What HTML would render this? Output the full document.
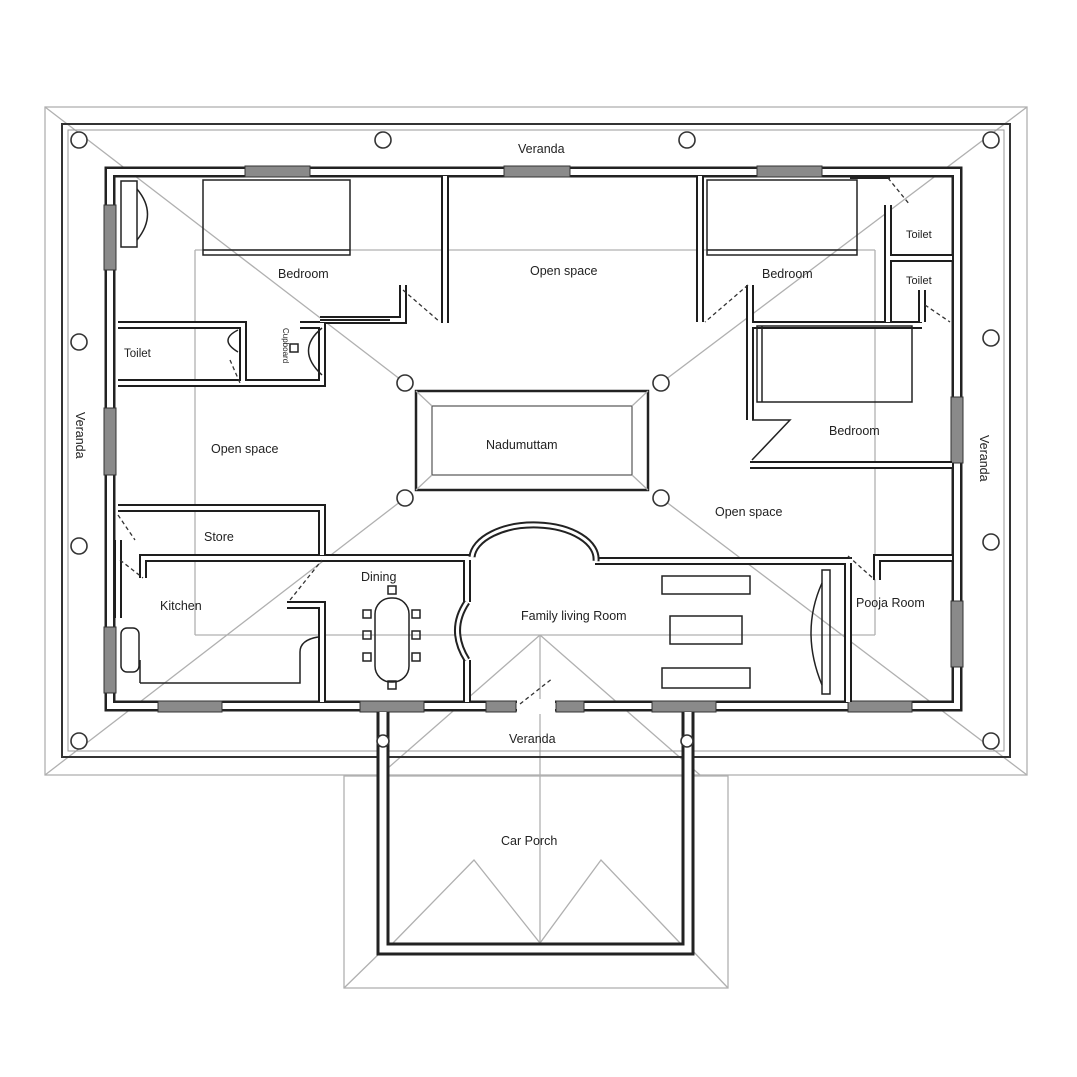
<!DOCTYPE html>
<html><head><meta charset="utf-8"><style>
html,body{margin:0;padding:0;background:#fff;}
svg{display:block;}
text{font-family:"Liberation Sans",sans-serif;font-size:12.5px;fill:#222;}
.r{stroke:#b0b0b0;stroke-width:1.3;fill:none;}
.w{fill:none;stroke:#1e1e1e;stroke-width:8;stroke-linecap:butt;}
.wi{fill:none;stroke:#fff;stroke-width:4;}
.t{fill:none;stroke:#222;stroke-width:1.5;}
.g{fill:#8a8a8a;stroke:#333;stroke-width:1;}
.c{fill:#fff;stroke:#333;stroke-width:1.6;}
.d{stroke:#333;stroke-width:1.3;stroke-dasharray:4 3;fill:none;}
</style></head><body>
<svg width="1077" height="1077" viewBox="0 0 1077 1077" xmlns="http://www.w3.org/2000/svg">
<rect x="45" y="107" width="982" height="668" class="r"/>
<rect x="344" y="776" width="384" height="212" class="r"/>
<g class="r">
<line x1="195" y1="250" x2="875" y2="250"/>
<line x1="195" y1="635" x2="875" y2="635"/>
<line x1="195" y1="250" x2="195" y2="635"/>
<line x1="875" y1="250" x2="875" y2="635"/>
<line x1="45" y1="107" x2="405" y2="383"/>
<line x1="1027" y1="107" x2="661" y2="383"/>
<line x1="45" y1="775" x2="405" y2="498"/>
<line x1="1027" y1="775" x2="661" y2="498"/>
<line x1="540" y1="635" x2="540" y2="944"/>
<line x1="540" y1="635" x2="380" y2="775"/>
<line x1="540" y1="635" x2="700" y2="775"/>
<polyline points="393,943 474,860 540,943 601,860 680,943"/>
<line x1="344" y1="988" x2="385" y2="948"/>
<line x1="728" y1="988" x2="690" y2="948"/>
</g>
<rect x="62" y="124" width="948" height="633" fill="none" stroke="#333" stroke-width="2"/>
<rect x="68" y="130" width="936" height="621" fill="none" stroke="#999" stroke-width="1"/>
<rect x="110" y="172" width="847" height="534" fill="none" stroke="#222" stroke-width="11"/>
<rect x="110" y="172" width="847" height="534" fill="none" stroke="#fff" stroke-width="6"/>
<g class="g">
<rect x="245" y="166" width="65" height="11"/><rect x="504" y="166" width="66" height="11"/><rect x="757" y="166" width="65" height="11"/>
<rect x="104" y="205" width="12" height="65"/><rect x="104" y="408" width="12" height="67"/><rect x="104" y="627" width="12" height="66"/>
<rect x="951" y="397" width="12" height="66"/><rect x="951" y="601" width="12" height="66"/>
<rect x="158" y="701" width="64" height="11"/><rect x="360" y="701" width="64" height="11"/><rect x="486" y="701" width="30" height="11"/>
<rect x="556" y="701" width="28" height="11"/><rect x="652" y="701" width="64" height="11"/><rect x="848" y="701" width="64" height="11"/>
</g>
<rect x="517" y="699" width="38" height="15" fill="#fff"/>
<g>
<path class="w" d="M445 176V323 M320 320H403V285 M118 325H243V383 M300 325H322V383H118 M118 508H322V555 M143 578V558H470 M118 540V618 M287 605H322V702 M700 176V322 M750 285V325H922 M888 205V322 M888 258H952 M922 290V322 M750 322V420 M750 465H952 M848 560V702 M877 580V558H952 M595 561H852 M467 560V602 M467 660V702"/>
<path class="wi" d="M445 176V323 M320 320H403V285 M118 325H243V383 M300 325H322V383H118 M118 508H322V555 M143 578V558H470 M118 540V618 M287 605H322V702 M700 176V322 M750 285V325H922 M888 205V322 M888 258H952 M922 290V322 M750 322V420 M750 465H952 M848 560V702 M877 580V558H952 M595 561H852 M467 560V602 M467 660V702"/>
<path d="M472 557 A62 34 0 0 1 596 561" fill="none" stroke="#222" stroke-width="7"/>
<path d="M472 557 A62 34 0 0 1 596 561" fill="none" stroke="#fff" stroke-width="3"/>
<path d="M467 602 Q448 630 467 660" fill="none" stroke="#222" stroke-width="7"/>
<path d="M467 602 Q448 630 467 660" fill="none" stroke="#fff" stroke-width="3"/>
<path d="M850 178H890 M320 320H390" fill="none" stroke="#222" stroke-width="2"/>
</g>
<path d="M140 683H300V652Q300 640 318 637 M140 683V660" class="t"/>
<g class="d">
<line x1="403" y1="290" x2="440" y2="322"/>
<line x1="748" y1="285" x2="705" y2="322"/>
<line x1="230" y1="360" x2="240" y2="383"/>
<line x1="118" y1="515" x2="135" y2="540"/>
<line x1="120" y1="560" x2="143" y2="578"/>
<line x1="290" y1="600" x2="322" y2="560"/>
<line x1="520" y1="704" x2="553" y2="678"/>
<line x1="848" y1="556" x2="875" y2="580"/>
<line x1="888" y1="178" x2="910" y2="205"/>
<line x1="925" y1="305" x2="950" y2="322"/>
</g>
<path d="M752 420H790L752 460" fill="none" stroke="#222" stroke-width="1.5"/>
<g class="t">
<rect x="203" y="180" width="147" height="75"/><line x1="203" y1="250" x2="350" y2="250"/>
<rect x="707" y="180" width="150" height="75"/><line x1="707" y1="250" x2="857" y2="250"/>
<rect x="757" y="326" width="155" height="76"/><line x1="762" y1="326" x2="762" y2="402"/>
<rect x="121" y="181" width="16" height="66"/><path d="M137 189 Q158 214 137 240"/>
<path d="M322 328 Q295 350 322 375"/><rect x="290" y="344" width="8" height="8"/>
<path d="M238 330 Q218 340 238 352"/><rect x="121" y="628" width="18" height="44" rx="6"/>
<rect x="662" y="576" width="88" height="18"/><rect x="670" y="616" width="72" height="28"/><rect x="662" y="668" width="88" height="20"/>
<rect x="822" y="570" width="8" height="124"/><path d="M822 583 Q800 632 822 685"/>
<rect x="375" y="598" width="34" height="84" rx="16"/>
<rect x="388" y="586" width="8" height="8"/><rect x="388" y="681" width="8" height="8"/>
<rect x="363" y="610" width="8" height="8"/><rect x="363" y="631" width="8" height="8"/><rect x="363" y="653" width="8" height="8"/>
<rect x="412" y="610" width="8" height="8"/><rect x="412" y="631" width="8" height="8"/><rect x="412" y="653" width="8" height="8"/>
</g>
<rect x="416" y="391" width="232" height="99" fill="none" stroke="#222" stroke-width="2.5"/>
<rect x="432" y="406" width="200" height="69" fill="none" stroke="#555" stroke-width="1.2"/>
<g class="r"><line x1="416" y1="391" x2="432" y2="406"/><line x1="648" y1="391" x2="632" y2="406"/><line x1="416" y1="490" x2="432" y2="475"/><line x1="648" y1="490" x2="632" y2="475"/></g>
<path d="M383 712V949H688V712" fill="none" stroke="#222" stroke-width="13"/>
<path d="M383 712V949H688V712" fill="none" stroke="#fff" stroke-width="7"/>
<g class="c">
<circle cx="79" cy="140" r="8"/><circle cx="383" cy="140" r="8"/><circle cx="687" cy="140" r="8"/><circle cx="991" cy="140" r="8"/>
<circle cx="79" cy="342" r="8"/><circle cx="991" cy="338" r="8"/><circle cx="79" cy="546" r="8"/><circle cx="991" cy="542" r="8"/>
<circle cx="79" cy="741" r="8"/><circle cx="991" cy="741" r="8"/><circle cx="383" cy="741" r="6"/><circle cx="687" cy="741" r="6"/>
<circle cx="405" cy="383" r="8"/><circle cx="661" cy="383" r="8"/><circle cx="405" cy="498" r="8"/><circle cx="661" cy="498" r="8"/>
</g>
<text x="518" y="153">Veranda</text>
<text x="278" y="278">Bedroom</text>
<text x="530" y="275">Open space</text>
<text x="762" y="278">Bedroom</text>
<text x="906" y="238" style="font-size:11px">Toilet</text>
<text x="906" y="284" style="font-size:11px">Toilet</text>
<text x="124" y="357" style="font-size:11.5px">Toilet</text>
<text x="211" y="453">Open space</text>
<text x="486" y="449">Nadumuttam</text>
<text x="829" y="435">Bedroom</text>
<text x="715" y="516">Open space</text>
<text x="204" y="541">Store</text>
<text x="361" y="581">Dining</text>
<text x="160" y="610">Kitchen</text>
<text x="521" y="620">Family living Room</text>
<text x="856" y="607">Pooja Room</text>
<text x="509" y="743">Veranda</text>
<text x="501" y="845">Car Porch</text>
<text transform="translate(76,412) rotate(90)">Veranda</text>
<text transform="translate(980,435) rotate(90)">Veranda</text>
<text transform="translate(283,328) rotate(90)" style="font-size:8px">Cupboard</text>
</svg>
</body></html>
